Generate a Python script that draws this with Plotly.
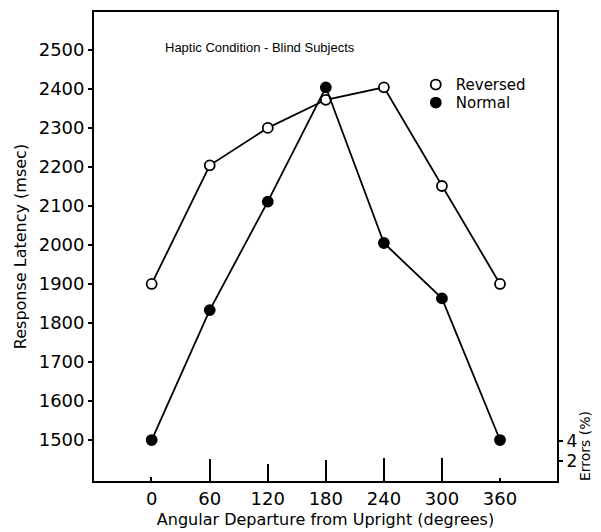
import plotly.graph_objects as go

angles = [0, 60, 120, 180, 240, 300, 360]
reversed_ms = [1900, 2204, 2300, 2372, 2404, 2151, 1900]
normal_ms = [1500, 1833, 2111, 2404, 2005, 1863, 1500]
errors_pct = [0.4, 2.2, 1.7, 2.15, 2.3, 2.3, 0.3]

FONT = "DejaVu Sans"
INK = "black"

fig = go.Figure()

# error bars: thin vertical strokes on the right-hand scale
fig.add_trace(go.Bar(
    x=angles, y=errors_pct, yaxis="y2", width=1.5,
    marker=dict(color=INK, line_width=0), showlegend=False,
))

for name, vals, fill, leg in [("Reversed", reversed_ms, "white", "legend"),
                              ("Normal", normal_ms, INK, "legend2")]:
    fig.add_trace(go.Scatter(
        x=angles, y=vals, mode="lines",
        line=dict(color=INK, width=1.8), showlegend=False,
    ))
    fig.add_trace(go.Scatter(
        x=angles, y=vals, mode="markers", name=name, legend=leg,
        marker=dict(size=10, color=fill, line=dict(color=INK, width=1.8)),
    ))

fig.add_annotation(
    text="Haptic Condition - Blind Subjects", xref="paper", yref="paper",
    x=0.359, y=0.945, showarrow=False,
    font=dict(size=13, family="Liberation Sans"),
)
fig.add_annotation(
    text="Errors (%)", xref="paper", yref="paper", x=1.0605, y=0.0746,
    xanchor="center", yanchor="middle",
    textangle=-90, showarrow=False, font=dict(size=14, family=FONT),
)

leg_style = dict(xanchor="left", yanchor="top", font=dict(size=15),
                 bgcolor="rgba(0,0,0,0)")

# the page adds ~8px of body margin, so margins are trimmed to match
fig.update_layout(
    width=601, height=532,
    margin=dict(l=86, r=52, t=4, b=59, autoexpand=False),
    plot_bgcolor="white", paper_bgcolor="white",
    font=dict(family=FONT, color=INK, size=16),
    legend=dict(x=0.695, y=0.88, **leg_style),
    legend2=dict(x=0.695, y=0.8416, **leg_style),
    xaxis=dict(
        range=[-59.6, 418.9], tickvals=angles, showgrid=False, zeroline=False,
        showline=True, linecolor=INK, linewidth=1.8, mirror=True, ticks="",
        tickfont=dict(size=18), automargin=False,
        title=dict(text="Angular Departure from Upright (degrees)",
                   font=dict(size=16), standoff=6),
    ),
    yaxis=dict(
        range=[1395, 2597], tickvals=list(range(1500, 2501, 100)),
        showgrid=False, zeroline=False, showline=True, linecolor=INK,
        linewidth=1.8, mirror=True, ticks="outside", ticklen=4,
        tickwidth=1.5, tickcolor=INK, tickfont=dict(size=18),
        automargin=False,
        title=dict(text="Response Latency (msec)", font=dict(size=16),
                   standoff=8),
    ),
    yaxis2=dict(
        overlaying="y", side="right", range=[0, 46.9], tickvals=[2, 4],
        showgrid=False, zeroline=False, showline=False, ticks="outside",
        ticklen=5, tickwidth=1.5, tickcolor=INK, tickfont=dict(size=17),
        automargin=False,
    ),
    bargap=0,
)

fig.write_html("out.html")
